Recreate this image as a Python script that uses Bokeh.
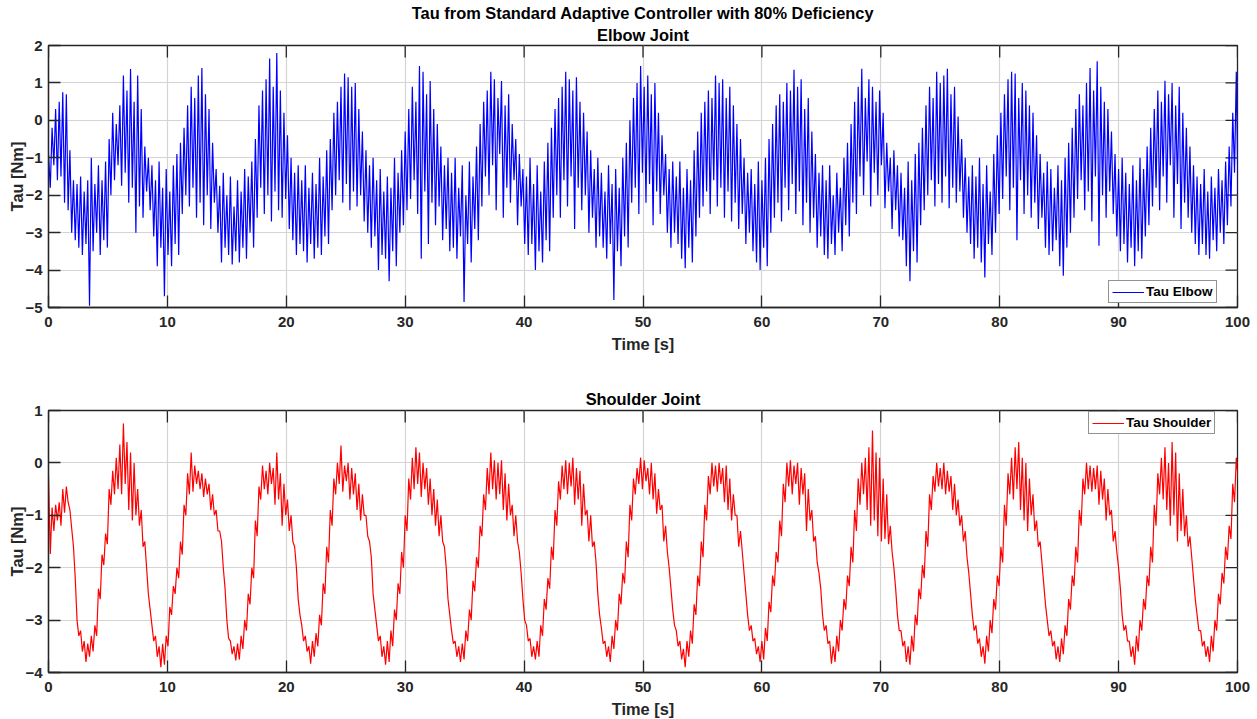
import numpy as np
from bokeh.plotting import figure
from bokeh.layouts import column
from bokeh.models import Title, Range1d, FixedTicker, Legend, LegendItem
from bokeh.embed import file_html
from bokeh.resources import INLINE

# ---------------- data ----------------
dt = 0.3  # s between successive upper samples; lower samples sit half-way
main_title = "Tau from Standard Adaptive Controller with 80% Deficiency"
elbow_title = "Elbow Joint"
shoulder_title = "Shoulder Joint"
x_label = "Time [s]"
y_label = "Tau [Nm]"
x_ticks = [0, 10, 20, 30, 40, 50, 60, 70, 80, 90, 100]
elbow_ticks = [-5, -4, -3, -2, -1, 0, 1, 2]
shoulder_ticks = [-4, -3, -2, -1, 0, 1]

elbow_hi = [
    -0.9, -0.2, 0.3, 0.5, 0.75, 0.7, -0.8, -1.6,
    -1.7, -1.5, -1.9, -1.6, -1.0, -1.7, -1.2, -1.6, -1.1, -0.5, 0.2, -0.1, 0.4, 1.2, 0.8, 1.37, 0.5, 1.2, 0.3, -0.7, -1.0,
    -1.2, -1.6, -1.1, -1.8, -1.3, -1.9, -1.2, -0.9, -0.6, -0.2, 0.4, 0.9, 0.6, 1.2, 1.4, 0.7, 0.3, -0.6, -1.3, -1.75, -1.4,
    -2.0, -1.5, -2.3, -1.6, -1.9, -1.3, -1.5, -1.1, -0.5, 0.4, 0.8, 1.1, 1.65, 0.9, 1.8, 0.8, 0.2, -0.4, -1.0, -1.4, -1.2,
    -1.6, -1.2, -1.8, -1.4, -1.7, -1.0, -1.5, -0.8, -0.5, 0.2, 0.5, 0.9, 1.25, 1.15, 0.9, 1.0, 0.3, -0.3, -0.8, -1.2, -1.0,
    -1.6, -1.3, -1.9, -1.5, -1.8, -1.0, -1.4, -0.8, -0.3, 0.3, 0.9, 0.5, 1.45, 1.3, 0.7, 1.05, 0.3, -0.1, -0.7, -1.2, -1.0,
    -1.4, -1.0, -1.8, -1.2, -2.0, -1.1, -1.5, -0.7, -0.1, 0.5, 0.8, 1.3, 1.1, 0.6, 1.05, 0.4, 0.7, -0.1, -0.5, -0.9, -1.3,
    -1.5, -1.0, -1.7, -1.2, -1.9, -1.1, -0.6, -0.2, 0.3, 0.6, 0.9, 1.3, 1.1, 0.8, 1.15, 0.5, 0.2, -0.3, -0.8, -1.3, -1.0,
    -1.4, -1.9, -1.2, -1.7, -1.3, -1.8, -1.0, -0.6, 0.0, 0.6, 1.0, 1.45, 0.9, 1.2, 0.7, 1.0, 0.2, -0.4, -0.9, -1.3, -1.1,
    -1.5, -1.1, -1.8, -1.3, -1.6, -0.8, -0.3, 0.2, 0.5, 0.8, 0.6, 1.2, 1.0, 1.1, 0.6, 0.9, 0.4, -0.1, -0.5, -1.0, -1.4,
    -1.3, -1.7, -1.1, -1.6, -1.0, -0.5, -0.1, 0.4, 0.7, 0.5, 1.0, 0.8, 1.35, 0.9, 1.1, 0.3, 0.6, -0.3, -0.9, -1.4, -1.2,
    -1.6, -1.2, -2.0, -1.4, -1.8, -1.0, -0.6, -0.1, 0.5, 0.9, 1.38, 0.6, 1.1, 0.9, 0.5, 0.8, 0.2, -0.6, -1.0, -0.8, -1.2,
    -1.4, -1.8, -1.1, -1.6, -0.9, -0.6, -0.2, 0.4, 0.9, 0.6, 1.3, 1.0, 1.2, 1.38, 0.7, 0.9, 0.1, -0.5, -1.0, -1.5, -1.2,
    -1.5, -1.0, -1.7, -1.2, -1.9, -0.9, -0.4, 0.2, 0.7, 1.1, 1.3, 1.25, 0.6, 1.0, 0.8, 0.4, 0.2, -0.4, -0.9, -1.4, -1.1,
    -1.3, -1.8, -1.2, -1.6, -1.0, -0.6, -0.2, 0.3, 0.7, 0.4, 1.0, 1.4, 0.8, 1.58, 0.9, 0.5, 0.3, -0.3, -0.9, -1.3, -1.0,
    -1.4, -1.7, -1.2, -1.6, -1.0, -1.3, -0.7, -0.2, 0.3, 0.8, 0.5, 1.06, 0.7, 1.0, 0.4, 0.9, 0.2, -0.2, -0.7, -1.2, -1.5,
    -1.7, -1.3, -1.9, -1.5, -1.8, -1.3, -1.6, -1.1, -0.7, 0.2, 1.3,
]

elbow_lo = [
    -1.8, -1.2, -1.6, -1.5, -2.2, -2.4, -3.0, -3.2,
    -3.4, -3.6, -3.3, -4.95, -3.5, -3.0, -3.6, -3.2, -3.4, -2.0, -1.6, -1.2, -1.75, -1.4, -2.2, -1.8, -3.0, -2.3, -2.6, -1.9, -2.4,
    -3.1, -3.9, -3.4, -4.7, -3.6, -3.9, -3.3, -3.6, -2.5, -2.0, -2.3, -1.8, -2.6, -2.2, -2.8, -2.0, -2.9, -2.2, -3.0, -3.8, -3.4,
    -3.6, -3.85, -3.5, -3.8, -3.4, -3.7, -3.0, -3.4, -2.6, -1.8, -2.5, -2.0, -2.7, -1.9, -2.4, -2.6, -2.1, -2.9, -3.2, -3.6, -3.3,
    -3.5, -3.8, -3.3, -3.7, -3.4, -3.6, -3.1, -3.3, -2.4, -2.0, -1.6, -2.2, -1.7, -2.4, -1.9, -2.3, -2.0, -2.7, -3.0, -3.4, -3.1,
    -4.0, -3.6, -3.7, -4.3, -3.5, -3.9, -3.0, -2.8, -2.4, -2.1, -1.6, -2.5, -3.7, -1.9, -3.3, -2.2, -2.8, -2.3, -3.2, -2.9, -3.5,
    -3.4, -3.7, -3.1, -4.85, -3.3, -3.8, -2.9, -3.2, -2.3, -1.5, -2.0, -1.2, -2.4, -0.9, -2.6, -1.8, -2.2, -1.6, -2.8, -2.3, -3.3,
    -3.6, -3.3, -4.0, -3.5, -3.8, -3.2, -3.5, -2.6, -2.0, -2.6, -1.6, -2.3, -1.5, -2.9, -1.8, -2.4, -2.0, -3.0, -2.6, -3.4, -3.1,
    -3.4, -3.7, -3.3, -4.8, -3.5, -3.9, -3.1, -3.4, -2.2, -1.8, -2.5, -1.4, -2.2, -1.7, -2.8, -1.9, -2.5, -2.0, -3.0, -3.4, -3.0,
    -3.3, -3.7, -3.95, -3.4, -3.8, -3.1, -2.6, -2.3, -1.9, -2.5, -1.6, -2.3, -1.8, -2.6, -1.9, -2.7, -2.2, -2.9, -2.5, -3.3, -3.0,
    -3.5, -3.8, -4.0, -3.4, -3.9, -3.0, -2.6, -2.2, -2.7, -1.8, -2.4, -1.7, -2.5, -1.9, -2.8, -2.2, -3.0, -2.6, -3.4, -3.1, -3.6,
    -3.7, -3.3, -3.6, -3.0, -3.5, -2.8, -3.1, -2.2, -2.5, -1.5, -2.0, -1.1, -2.3, -1.4, -2.0, -1.2, -2.35, -1.9, -2.9, -2.4, -3.1,
    -3.2, -3.9, -4.3, -3.5, -3.8, -2.8, -2.4, -2.0, -1.6, -2.3, -1.7, -2.2, -1.5, -2.35, -1.8, -2.2, -1.9, -2.6, -3.0, -3.3, -3.7,
    -3.4, -3.8, -4.2, -3.3, -3.6, -3.0, -2.5, -2.1, -1.5, -2.4, -1.8, -3.2, -1.6, -2.5, -2.0, -2.6, -2.2, -2.9, -2.6, -3.4, -3.6,
    -3.5, -3.2, -3.9, -4.15, -3.4, -3.0, -2.6, -2.1, -1.6, -2.4, -1.9, -2.7, -1.5, -3.35, -2.0, -2.6, -1.9, -2.5, -3.1, -3.5, -3.3,
    -3.8, -3.4, -3.9, -3.5, -3.7, -3.1, -2.8, -2.3, -1.8, -2.4, -1.5, -2.2, -1.2, -2.6, -1.7, -2.9, -2.2, -2.6, -3.0, -3.3, -3.6,
    -3.3, -3.6, -3.7, -3.2, -3.5, -3.0, -3.3, -2.8, -2.3, -1.4, -2.2,
]

shoulder_hi = [
    -0.24, -0.85, -0.8, -0.75, -0.5, -0.45, -0.9, -1.6,
    -3.0, -3.2, -3.4, -3.45, -3.3, -3.1, -2.4, -1.75, -1.35, -0.5, -0.15, 0.1, 0.35, 0.75, 0.4, 0.2, 0.0, -0.5, -0.9, -1.5, -2.5,
    -3.1, -3.3, -3.5, -3.45, -3.3, -2.75, -2.35, -2.0, -1.5, -0.8, -0.2, 0.2, -0.05, -0.15, -0.2, -0.3, -0.4, -0.6, -0.9, -1.3, -2.0,
    -3.0, -3.4, -3.5, -3.45, -3.3, -3.0, -2.5, -2.0, -1.1, -0.45, -0.05, -0.15, 0.0, -0.1, 0.2, -0.2, -0.4, -0.7, -1.0, -1.6, -2.6,
    -3.1, -3.3, -3.5, -3.4, -3.25, -2.9, -2.3, -1.6, -0.9, -0.3, 0.0, 0.33, -0.05, 0.0, -0.1, -0.2, -0.4, -0.6, -1.0, -1.5, -2.5,
    -3.1, -3.3, -3.5, -3.4, -3.2, -2.8, -2.3, -1.7, -1.0, -0.3, 0.1, 0.3, 0.2, 0.0, -0.1, -0.3, -0.5, -0.7, -1.0, -1.6, -2.6,
    -3.2, -3.4, -3.5, -3.45, -3.2, -2.8, -2.25, -1.8, -1.2, -0.6, -0.1, 0.2, 0.05, 0.0, 0.05, -0.2, -0.4, -0.8, -1.0, -1.7, -2.6,
    -3.1, -3.35, -3.5, -3.4, -3.1, -2.6, -2.2, -1.6, -0.9, -0.35, -0.05, 0.05, 0.0, 0.1, -0.1, -0.15, -0.4, -0.9, -1.0, -1.5, -2.5,
    -3.15, -3.4, -3.5, -3.3, -3.0, -2.5, -2.1, -1.5, -0.8, -0.3, -0.1, 0.1, 0.05, -0.1, 0.0, -0.2, -0.5, -0.8, -1.2, -2.0, -2.8,
    -3.2, -3.4, -3.55, -3.4, -3.2, -2.7, -2.15, -1.5, -0.8, -0.25, 0.0, -0.05, 0.0, -0.1, -0.05, -0.3, -0.6, -1.0, -1.3, -2.1, -2.9,
    -3.1, -3.35, -3.5, -3.4, -3.15, -2.65, -2.15, -1.7, -1.1, -0.4, 0.0, 0.05, -0.05, 0.0, -0.1, -0.2, -0.5, -0.9, -1.4, -2.1, -2.9,
    -3.1, -3.4, -3.5, -3.3, -3.0, -2.6, -2.15, -1.6, -0.9, -0.3, 0.0, 0.1, 0.3, 0.62, 0.2, 0.1, -0.3, -0.6, -1.2, -2.0, -2.9,
    -3.2, -3.4, -3.5, -3.3, -2.9, -2.4, -1.95, -1.3, -0.6, -0.25, 0.0, -0.1, 0.0, -0.15, -0.25, -0.4, -0.7, -1.0, -1.3, -2.1, -2.9,
    -3.1, -3.35, -3.5, -3.3, -3.0, -2.6, -2.15, -1.6, -0.8, -0.2, 0.1, 0.3, 0.4, 0.1, 0.0, -0.3, -0.6, -1.1, -1.5, -2.3, -3.0,
    -3.2, -3.4, -3.5, -3.35, -3.1, -2.6, -2.15, -1.6, -0.9, -0.3, 0.0, -0.05, -0.1, -0.05, -0.15, -0.3, -0.5, -0.9, -1.3, -2.0, -2.9,
    -3.1, -3.4, -3.5, -3.3, -3.0, -2.6, -2.15, -1.6, -0.8, -0.2, 0.1, 0.3, 0.0, 0.4, 0.2, -0.2, -0.5, -1.0, -1.4, -2.2, -2.9,
    -3.2, -3.4, -3.5, -3.3, -3.0, -2.5, -2.1, -1.6, -1.2, -0.4, 0.1,
]

shoulder_lo = [
    -1.74, -1.3, -1.1, -1.2, -0.95, -0.75, -1.25, -2.2,
    -3.3, -3.6, -3.8, -3.7, -3.6, -3.3, -2.6, -1.95, -1.55, -0.8, -0.6, -0.5, -0.6, -0.4, -0.9, -1.1, -1.0, -1.2, -1.6, -2.0, -2.8,
    -3.4, -3.7, -3.9, -3.85, -3.5, -2.9, -2.5, -2.2, -1.75, -1.0, -0.6, -0.55, -0.4, -0.5, -0.65, -0.6, -0.9, -1.0, -1.3, -1.5, -2.4,
    -3.35, -3.65, -3.77, -3.75, -3.55, -3.2, -2.7, -2.2, -1.4, -0.7, -0.5, -0.6, -0.4, -0.8, -0.7, -1.2, -1.0, -1.3, -1.5, -2.0, -2.9,
    -3.4, -3.6, -3.83, -3.7, -3.5, -3.1, -2.5, -1.9, -1.2, -0.6, -0.4, -0.55, -0.35, -0.7, -0.6, -0.9, -1.1, -1.0, -1.4, -1.8, -2.8,
    -3.4, -3.7, -3.85, -3.8, -3.5, -3.0, -2.5, -2.0, -1.3, -0.7, -0.5, -0.4, -0.65, -0.5, -0.8, -1.0, -1.2, -1.4, -1.5, -2.0, -2.9,
    -3.45, -3.7, -3.8, -3.75, -3.4, -3.0, -2.45, -2.0, -1.4, -0.9, -0.6, -0.5, -0.7, -0.6, -0.9, -1.1, -1.0, -1.4, -1.5, -2.1, -3.0,
    -3.4, -3.7, -3.75, -3.7, -3.3, -2.8, -2.4, -1.85, -1.2, -0.7, -0.5, -0.6, -0.45, -0.8, -0.7, -1.2, -1.0, -1.5, -1.6, -1.9, -2.9,
    -3.45, -3.7, -3.8, -3.55, -3.2, -2.7, -2.3, -1.8, -1.1, -0.6, -0.4, -0.5, -0.35, -0.6, -0.7, -0.97, -0.9, -1.5, -1.7, -2.4, -3.1,
    -3.5, -3.75, -3.9, -3.7, -3.45, -2.9, -2.35, -1.8, -1.1, -0.6, -0.45, -0.55, -0.4, -0.75, -0.9, -1.1, -1.0, -1.6, -1.7, -2.5, -3.2,
    -3.4, -3.65, -3.8, -3.75, -3.4, -2.85, -2.35, -1.9, -1.4, -0.75, -0.45, -0.6, -0.4, -0.8, -0.6, -1.3, -1.1, -1.5, -1.9, -2.4, -3.2,
    -3.45, -3.83, -3.8, -3.6, -3.2, -2.8, -2.35, -1.9, -1.3, -0.8, -0.6, -0.9, -1.2, -1.1, -1.4, -1.5, -1.45, -1.55, -1.7, -2.4, -3.2,
    -3.5, -3.8, -3.85, -3.6, -3.1, -2.6, -2.2, -1.6, -0.9, -0.55, -0.45, -0.5, -0.6, -0.55, -0.9, -1.0, -1.2, -1.5, -1.8, -2.5, -3.2,
    -3.45, -3.7, -3.83, -3.6, -3.25, -2.8, -2.35, -1.9, -1.2, -0.6, -0.7, -0.5, -0.9, -1.1, -1.3, -1.0, -1.3, -1.6, -1.9, -2.7, -3.3,
    -3.5, -3.75, -3.8, -3.65, -3.3, -2.8, -2.35, -1.9, -1.2, -0.6, -0.5, -0.55, -0.5, -0.8, -0.7, -1.1, -1.0, -1.5, -1.7, -2.4, -3.2,
    -3.4, -3.7, -3.85, -3.6, -3.2, -2.8, -2.35, -1.9, -1.2, -0.6, -0.7, -0.9, -1.2, -1.0, -1.5, -1.3, -1.4, -1.6, -1.8, -2.6, -3.2,
    -3.5, -3.7, -3.8, -3.6, -3.2, -2.7, -2.3, -1.85, -1.45, -0.75, -0.3,
]

# ---------------- helpers ----------------
FONT = "Liberation Sans"
DARK = "#262626"
FRAME_W, FRAME_H = 1189, 262
TICK_PX = 12


def interleave(hi, lo):
    n = min(len(hi), len(lo))
    t = np.arange(n) * dt
    tt = np.column_stack([t, t + dt / 2]).ravel()
    yy = np.column_stack([np.asarray(hi[:n]), np.asarray(lo[:n])]).ravel()
    return tt, yy


def style_axis(ax, ticks, label, label_standoff, tick_standoff):
    ax.ticker = FixedTicker(ticks=ticks)
    ax.major_tick_in = TICK_PX
    ax.major_tick_out = 0
    ax.minor_tick_in = 0
    ax.minor_tick_out = 0
    ax.axis_line_color = DARK
    ax.axis_line_width = 1.3
    ax.major_tick_line_color = DARK
    ax.major_tick_line_width = 1.3
    ax.major_label_text_font = FONT
    ax.major_label_text_font_style = "bold"
    ax.major_label_text_font_size = "15px"
    ax.major_label_text_color = DARK
    ax.major_label_standoff = tick_standoff
    ax.axis_label = label
    ax.axis_label_text_font = FONT
    ax.axis_label_text_font_style = "bold"
    ax.axis_label_text_font_size = "16.4px"
    ax.axis_label_text_color = DARK
    ax.axis_label_standoff = label_standoff


def make_panel(hi, lo, color, y_lo, y_hi, yticks, titles, legend_text,
               legend_loc, border_top, border_bottom):
    x_lo, x_hi = 0, 100
    p = figure(frame_width=FRAME_W, frame_height=FRAME_H,
               x_range=Range1d(x_lo, x_hi), y_range=Range1d(y_lo, y_hi),
               output_backend="svg", toolbar_location=None,
               min_border_left=48, min_border_right=20,
               min_border_top=border_top, min_border_bottom=border_bottom,
               background_fill_color="white", border_fill_color="white")
    p.outline_line_color = DARK
    p.outline_line_width = 1.3
    p.outline_line_alpha = 1.0

    style_axis(p.xaxis[0], x_ticks, x_label, 5, 9)
    style_axis(p.yaxis[0], yticks, y_label, -4, 6)

    p.xgrid.ticker = FixedTicker(ticks=x_ticks)
    p.ygrid.ticker = FixedTicker(ticks=yticks)
    for g in (p.xgrid[0], p.ygrid[0]):
        g.grid_line_color = "#d4d4d4"
        g.grid_line_width = 1.2

    # inward ticks on the top and right edges of the box (from the tick lists)
    dy = TICK_PX * (y_hi - y_lo) / FRAME_H
    dx = TICK_PX * (x_hi - x_lo) / FRAME_W
    p.segment(x0=x_ticks, y0=[y_hi] * len(x_ticks), x1=x_ticks,
              y1=[y_hi - dy] * len(x_ticks), line_color=DARK, line_width=1.3)
    p.segment(x0=[x_hi] * len(yticks), y0=yticks, x1=[x_hi - dx] * len(yticks),
              y1=yticks, line_color=DARK, line_width=1.3)

    for txt, so in titles:
        p.add_layout(Title(text=txt, align="center", text_font=FONT,
                           text_font_style="bold", text_font_size="16.4px",
                           text_color="black", standoff=so), "above")

    tt, yy = interleave(hi, lo)
    r = p.line(tt, yy, line_color=color, line_width=1.2)

    legend = Legend(items=[LegendItem(label=legend_text, renderers=[r])],
                    location=legend_loc, orientation="vertical")
    legend.label_text_font = FONT
    legend.label_text_font_style = "bold"
    legend.label_text_font_size = "13.5px"
    legend.label_text_color = "black"
    legend.glyph_width = 32
    legend.glyph_height = 14
    legend.label_height = 14
    legend.label_standoff = 2
    legend.padding = 3
    legend.spacing = 0
    legend.margin = 0
    legend.border_line_color = DARK
    legend.border_line_width = 1.3
    legend.background_fill_color = "white"
    legend.background_fill_alpha = 1.0
    p.add_layout(legend)
    return p


p1 = make_panel(elbow_hi, elbow_lo, "#0000ff", -5, 2, elbow_ticks,
                [(elbow_title, 3), (main_title, 2)], "Tau Elbow",
                (1060, 4), 45, 50)
p2 = make_panel(shoulder_hi, shoulder_lo, "#ff0000", -4, 1, shoulder_ticks,
                [(shoulder_title, 5)], "Tau Shoulder",
                (1040, 238), 53, 47)

layout = column(p1, p2, spacing=0)
open("out.html", "w").write(file_html(layout, INLINE))
